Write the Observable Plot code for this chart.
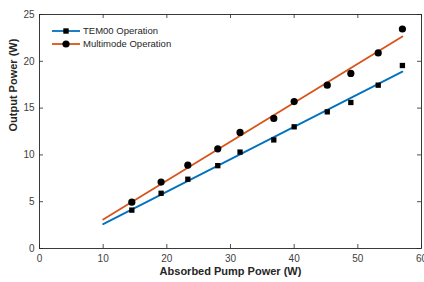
<!DOCTYPE html>
<html><head><meta charset="utf-8">
<script src="https://cdn.jsdelivr.net/npm/d3@7"></script>
<script src="https://cdn.jsdelivr.net/npm/@observablehq/plot@0.6"></script>
<style>body{margin:0;background:#fff} svg{display:block}</style>
</head><body><div id="chart"></div>
<script>
const pump = [14.5, 19.1, 23.3, 28.0, 31.5, 36.8, 40.0, 45.2, 48.9, 53.2, 57.0];
const tem00 = [4.1, 5.9, 7.4, 8.85, 10.3, 11.6, 13.0, 14.6, 15.6, 17.45, 19.55];
const multimode = [4.95, 7.1, 8.9, 10.65, 12.4, 13.9, 15.7, 17.45, 18.7, 20.9, 23.45];
const fitX = [10, 57.0];
const fitTem00 = [2.6, 18.9];
const fitMulti = [3.1, 22.65];
const xTicks = [0, 10, 20, 30, 40, 50, 60];
const yTicks = [0, 5, 10, 15, 20, 25];
const seriesNames = ["TEM00 Operation", "Multimode Operation"];
const seriesColors = ["#0072BD", "#D95319"];
const seriesSymbols = ["square", "circle"];
const xLabel = "Absorbed Pump Power (W)";
const yLabel = "Output Power (W)";

const W = 424, H = 282, mL = 39, mR = 3, mT = 14, mB = 34;
const pw = W - mL - mR, ph = H - mT - mB;
const axisColor = "#262626";
const font = "'Liberation Sans', Arial, Helvetica, sans-serif";

const pts = (ys) => pump.map((x, i) => ({x, y: ys[i]}));
const fit = (ys) => fitX.map((x, i) => ({x, y: ys[i]}));

const svg = Plot.plot({
  width: W, height: H,
  marginLeft: mL, marginRight: mR, marginTop: mT, marginBottom: mB,
  style: {fontFamily: font, fontSize: "10px", color: "#404040", background: "#fff"},
  x: {domain: [0, 60], label: null},
  y: {domain: [0, 25], label: null},
  marks: [
    Plot.axisX(xTicks, {tickSize: 0, tickPadding: 6, label: null, fontSize: 10}),
    Plot.axisY(yTicks, {tickSize: 0, tickPadding: 5, label: null, fontSize: 10}),
    Plot.tickX(xTicks, {x: d => d, insetTop: ph - 4, stroke: axisColor, strokeWidth: 0.8}),
    Plot.tickX(xTicks, {x: d => d, insetBottom: ph - 4, stroke: axisColor, strokeWidth: 0.8}),
    Plot.tickY(yTicks, {y: d => d, insetRight: pw - 4, stroke: axisColor, strokeWidth: 0.8}),
    Plot.tickY(yTicks, {y: d => d, insetLeft: pw - 4, stroke: axisColor, strokeWidth: 0.8}),
    Plot.frame({stroke: axisColor, strokeWidth: 0.9}),
    Plot.line(fit(fitTem00), {x: "x", y: "y", stroke: seriesColors[0], strokeWidth: 1.8}),
    Plot.line(fit(fitMulti), {x: "x", y: "y", stroke: seriesColors[1], strokeWidth: 1.8}),
    Plot.dot(pts(tem00), {x: "x", y: "y", symbol: seriesSymbols[0], fill: "#000", r: 3}),
    Plot.dot(pts(multimode), {x: "x", y: "y", symbol: seriesSymbols[1], fill: "#000", r: 3.6}),
    Plot.text([xLabel], {text: d => d, frameAnchor: "bottom", dy: 26, fontWeight: "bold", fontSize: 11, fill: "#262626"}),
    Plot.text([yLabel], {text: d => d, frameAnchor: "left", dx: -26, rotate: -90, fontWeight: "bold", fontSize: 11, fill: "#262626"})
  ]
});

// legend (inside top-left of axes)
const lg = d3.select(svg).append("g").attr("font-family", font).attr("font-size", 9.5).attr("text-anchor", "start");
seriesNames.forEach((name, i) => {
  const y = 31 + i * 13;
  lg.append("line").attr("x1", 52).attr("x2", 80).attr("y1", y).attr("y2", y)
    .attr("stroke", seriesColors[i]).attr("stroke-width", 1.8);
  if (seriesSymbols[i] === "square") {
    lg.append("rect").attr("x", 66 - 2.7).attr("y", y - 2.7).attr("width", 5.4).attr("height", 5.4).attr("fill", "#000");
  } else {
    lg.append("circle").attr("cx", 66).attr("cy", y).attr("r", 3.6).attr("fill", "#000");
  }
  lg.append("text").attr("x", 83).attr("y", y).attr("dy", "0.35em").attr("text-anchor", "start").attr("fill", "#262626").text(name);
});

document.getElementById("chart").appendChild(svg);
</script>
</body></html>
